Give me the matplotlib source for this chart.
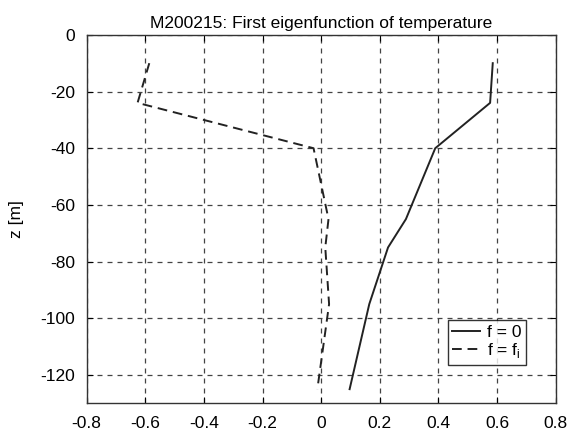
import numpy as np
import matplotlib.pyplot as plt

plt.rcParams['font.family'] = ['Liberation Sans', 'DejaVu Sans']

z = [-10, -24, -40, -65, -75, -95, -125]
f0 = [0.585, 0.576, 0.389, 0.289, 0.228, 0.164, 0.097]
fi = [-0.586, -0.626, -0.026, 0.025, 0.014, 0.027, -0.013]

fig = plt.figure(figsize=(5.73, 4.3), dpi=100)
ax = fig.add_axes([0.151, 0.062, 0.819, 0.857])

ax.plot(f0, z, color='#222222', lw=1.4, ls='-', label='f = 0')
ax.plot(fi, z, color='#222222', lw=1.4, ls=(0, (5, 3)), label='f = f$_\\mathregular{i}$')

ax.set_xlim(-0.8, 0.8)
ax.set_ylim(-130, 0)
ax.set_xticks(np.arange(-0.8, 0.81, 0.2))
ax.set_xticklabels(['-0.8', '-0.6', '-0.4', '-0.2', '0', '0.2', '0.4', '0.6', '0.8'])
ax.set_yticks([-120, -100, -80, -60, -40, -20, 0])
ax.set_yticklabels(['-120', '-100', '-80', '-60', '-40', '-20', '0'])
ax.tick_params(direction='in', labelsize=12.5, length=4, top=True, right=True)
ax.tick_params(axis='y', pad=8)
ax.tick_params(axis='x', pad=9)
ax.grid(True, color='#444444', ls=(0, (4, 4)), lw=0.9)
for s in ax.spines.values():
    s.set_color('#333333')
    s.set_linewidth(1.0)

ax.set_ylabel('z [m]', fontsize=12.5, labelpad=12)
ax.set_title('M200215: First eigenfunction of temperature', fontsize=12.5, pad=5)

leg = ax.legend(loc='lower right', bbox_to_anchor=(0.954, 0.081), fontsize=12.5,
                frameon=True, fancybox=False, edgecolor='black',
                handlelength=1.6, handletextpad=0.4, borderpad=0.25, labelspacing=0.1)
leg.get_frame().set_linewidth(1.0)

fig.savefig('out.png', dpi=100)
